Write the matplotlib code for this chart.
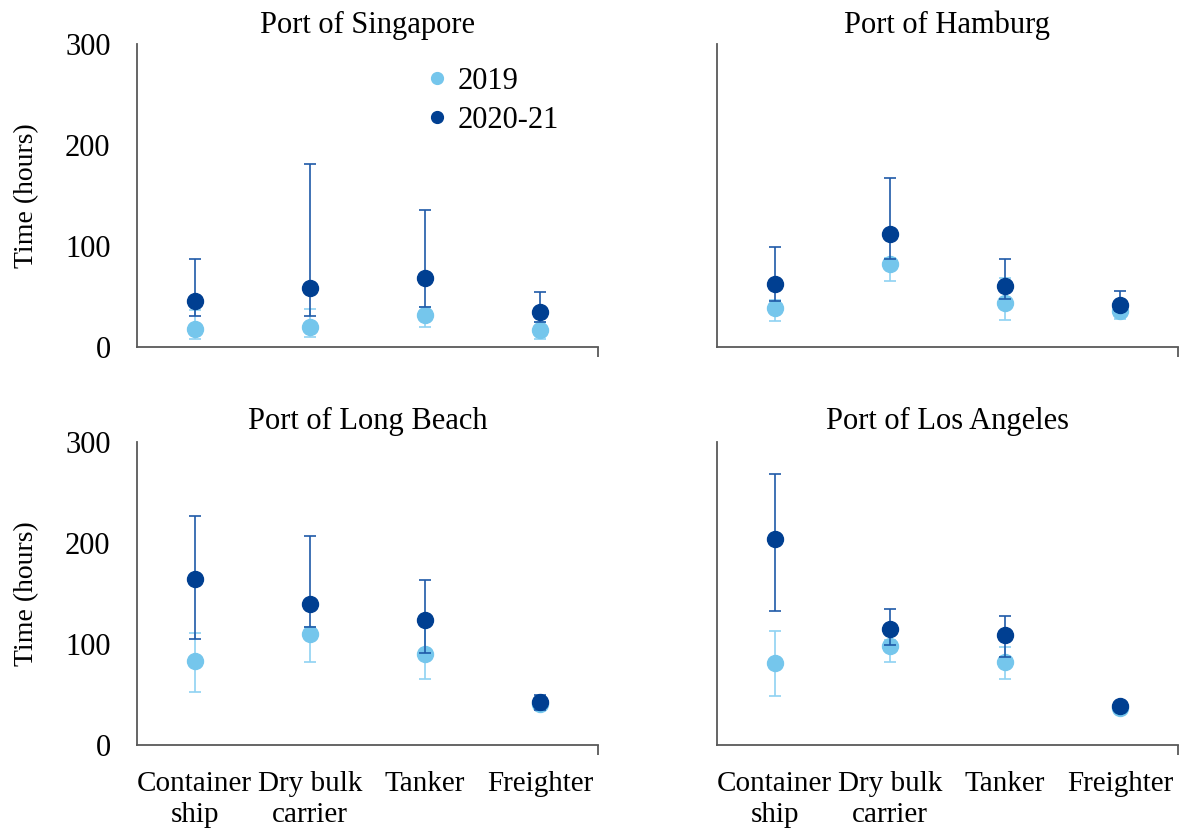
from matplotlib import pyplot as plt
from matplotlib.lines import Line2D
import numpy as np

plt.rcParams['font.family'] = ['Liberation Serif', 'DejaVu Serif']

categories = ["Container\nship", "Dry bulk\ncarrier", "Tanker", "Freighter"]
ports = ["Port of Singapore", "Port of Hamburg", "Port of Long Beach", "Port of Los Angeles"]

# mean, lower bound, upper bound (hours)
sg_2019 = [18, 20, 32, 17];   sg_2019_lo = [8, 10, 20, 8];    sg_2019_hi = [37, 38, 40, 25]
sg_2020 = [46, 58, 68, 35];   sg_2020_lo = [31, 31, 40, 25];  sg_2020_hi = [87, 181, 136, 54]

hh_2019 = [39, 82, 44, 36];   hh_2019_lo = [26, 65, 27, 28];  hh_2019_hi = [47, 88, 68, 40]
hh_2020 = [62, 112, 60, 42];  hh_2020_lo = [46, 87, 48, 36];  hh_2020_hi = [99, 167, 87, 55]

lb_2019 = [83, 110, 90, 41];  lb_2019_lo = [52, 82, 65, 35];  lb_2019_hi = [111, 117, 124, 46]
lb_2020 = [164, 140, 124, 43]; lb_2020_lo = [105, 117, 91, 35]; lb_2020_hi = [227, 207, 163, 50]

la_2019 = [81, 98, 82, 37];   la_2019_lo = [49, 82, 65, 35];  la_2019_hi = [113, 104, 97, 40]
la_2020 = [204, 115, 109, 39]; la_2020_lo = [133, 99, 87, 36]; la_2020_hi = [268, 135, 128, 42]

data = [
    (sg_2019, sg_2019_lo, sg_2019_hi, sg_2020, sg_2020_lo, sg_2020_hi),
    (hh_2019, hh_2019_lo, hh_2019_hi, hh_2020, hh_2020_lo, hh_2020_hi),
    (lb_2019, lb_2019_lo, lb_2019_hi, lb_2020, lb_2020_lo, lb_2020_hi),
    (la_2019, la_2019_lo, la_2019_hi, la_2020, la_2020_lo, la_2020_hi),
]

light = "#75c6ec"
light_err = "#8fd2f2"
dark = "#003f91"
dark_err = "#1f5aa8"
spine_col = "#595959"

fig = plt.figure(figsize=(11.92, 8.35), dpi=100)
W, H = 1192, 835
rects = [(137, 44), (717, 44), (137, 442), (717, 442)]
title_pad = [8, 8, 9, 9]

x = np.arange(4) + 0.5
for k, (l, t) in enumerate(rects):
    ax = fig.add_axes([l / W, 1 - (t + 303) / H, 461 / W, 303 / H])
    m19, lo19, hi19, m20, lo20, hi20 = [np.array(v) for v in data[k]]
    ax.errorbar(x, m19, yerr=[m19 - lo19, hi19 - m19], fmt='none', ecolor=light_err,
                elinewidth=1.2, capsize=4.5, capthick=1.2, zorder=2)
    ax.plot(x, m19, 'o', color=light, markersize=11.5, zorder=3)
    ax.errorbar(x, m20, yerr=[m20 - lo20, hi20 - m20], fmt='none', ecolor=dark_err,
                elinewidth=1.2, capsize=4.5, capthick=1.2, zorder=4)
    ax.plot(x, m20, 'o', color=dark, markersize=11.5, zorder=5)

    ax.set_xlim(0, 4)
    ax.set_ylim(0, 300)
    for s in ['top', 'right']:
        ax.spines[s].set_visible(False)
    for s in ['left', 'bottom']:
        ax.spines[s].set_color(spine_col)
        ax.spines[s].set_linewidth(1.3)

    ax.set_yticks([0, 100, 200, 300])
    ax.set_yticks([300], minor=True)
    ax.set_xticks(x)
    ax.set_xticks([4], minor=True)
    ax.tick_params(axis='y', which='major', length=0, pad=19, labelsize=22)
    ax.tick_params(axis='y', which='minor', length=7, width=1.3, color=spine_col)
    ax.tick_params(axis='x', which='minor', length=7, width=1.3, color=spine_col)
    ax.tick_params(axis='x', which='major', length=0, pad=19, labelsize=21)

    if k % 2 == 0:
        ax.set_ylabel("Time (hours)", fontsize=20)
        ax.yaxis.set_label_coords(-0.212, 0.5)
    else:
        ax.set_yticklabels([])
    if k >= 2:
        ax.set_xticklabels(categories, linespacing=1.25)
    else:
        ax.set_xticklabels([])

    ax.set_title(ports[k], fontsize=22, pad=title_pad[k])

    if k == 0:
        handles = [Line2D([], [], marker='o', ls='none', color=light, markersize=8.5),
                   Line2D([], [], marker='o', ls='none', color=dark, markersize=8.5)]
        ax.legend(handles, ["2019", "2020-21"], frameon=False, fontsize=22,
                  loc='upper left', bbox_to_anchor=(0.559, 1.015),
                  handlelength=1.0, handletextpad=0.15, labelspacing=0.32)

fig.savefig("out.png", dpi=100)
